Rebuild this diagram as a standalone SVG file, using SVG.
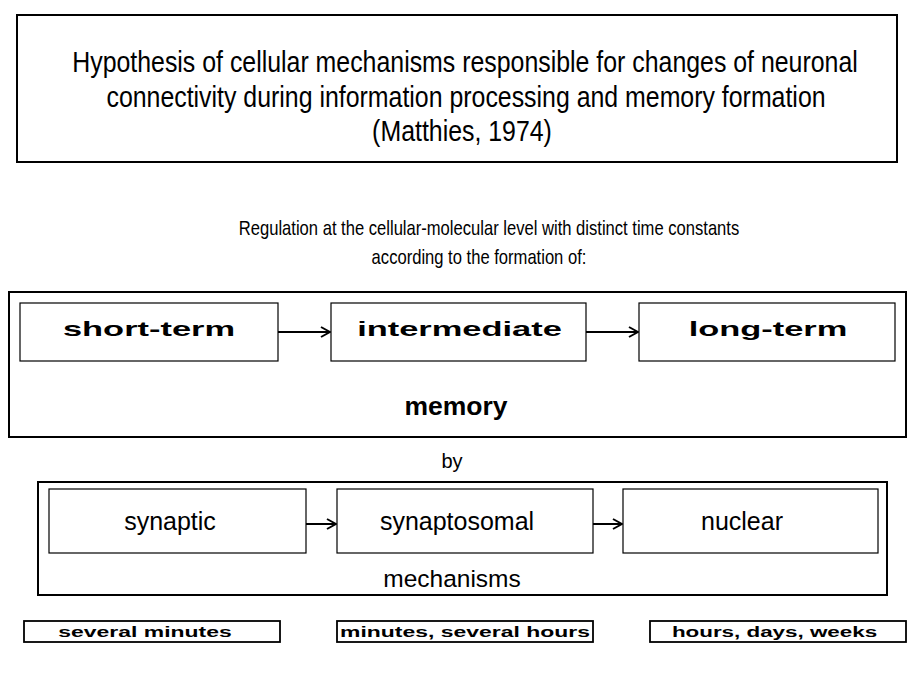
<svg xmlns="http://www.w3.org/2000/svg" width="911" height="684" viewBox="0 0 911 684">
  <style>
    .frame { fill: #fff; stroke: #000; stroke-width: 2; }
    .box { fill: #fff; stroke: #000; stroke-width: 1.2; }
    .tag { fill: #fff; stroke: #000; stroke-width: 1.8; }
    .t { font-family: "Liberation Sans", Arial, sans-serif; fill: #000; text-anchor: middle; }
    .narrow { font-family: "Liberation Sans", Arial, sans-serif; fill: #000; text-anchor: middle; }
    .wide { font-family: "Liberation Sans", Arial, sans-serif; font-weight: bold; fill: #000; text-anchor: middle; }
    .link { stroke: #000; stroke-width: 2; fill: none; }
  </style>
  <defs>
    <marker id="arrow" viewBox="0 0 12 12" refX="11" refY="6" markerWidth="12" markerHeight="12" markerUnits="userSpaceOnUse" orient="auto">
      <path d="M2,1 L11,6 L2,11" fill="none" stroke="#000" stroke-width="2"/>
    </marker>
  </defs>
  <rect width="911" height="684" fill="#fff"/>

  <!-- title (condensed face: horizontal scale 0.83) -->
  <g id="title">
    <rect class="frame" x="17" y="15" width="880" height="147"/>
    <text class="narrow" font-size="30" transform="translate(465 72) scale(0.83 1)">Hypothesis of cellular mechanisms responsible for changes of neuronal</text>
    <text class="narrow" font-size="30" transform="translate(466 107) scale(0.83 1)">connectivity during information processing and memory formation</text>
    <text class="narrow" font-size="30" transform="translate(462 141) scale(0.83 1)">(Matthies, 1974)</text>
  </g>

  <!-- caption -->
  <g id="caption">
    <text class="narrow" font-size="20" transform="translate(489 235) scale(0.83 1)">Regulation at the cellular-molecular level with distinct time constants</text>
    <text class="narrow" font-size="20" transform="translate(479 264) scale(0.83 1)">according to the formation of:</text>
  </g>

  <!-- memory stages (extended face: horizontal scale 1.64) -->
  <g id="memory">
    <rect class="frame" x="9" y="292" width="897" height="145"/>
    <text class="wide" x="456" y="415" font-size="26.5">memory</text>
  </g>
  <g id="short-term">
    <rect class="box" x="20" y="303" width="258" height="58"/>
    <text class="wide" font-size="21" transform="translate(149 336) scale(1.64 1)">short-term</text>
  </g>
  <g id="intermediate">
    <rect class="box" x="331" y="303" width="255" height="58"/>
    <text class="wide" font-size="21" transform="translate(459.5 336) scale(1.64 1)">intermediate</text>
  </g>
  <g id="long-term">
    <rect class="box" x="639" y="303" width="256" height="58"/>
    <text class="wide" font-size="21" transform="translate(768 336) scale(1.64 1)">long-term</text>
  </g>

  <g id="by">
    <text class="t" x="452" y="468" font-size="20">by</text>
  </g>

  <!-- mechanisms -->
  <g id="mechanisms">
    <rect class="frame" x="38" y="482" width="849" height="113"/>
    <text class="t" x="452" y="587" font-size="24.5">mechanisms</text>
  </g>
  <g id="synaptic">
    <rect class="box" x="49" y="489" width="257" height="64"/>
    <text class="t" x="170" y="530" font-size="25">synaptic</text>
  </g>
  <g id="synaptosomal">
    <rect class="box" x="337" y="489" width="256" height="64"/>
    <text class="t" x="457" y="530" font-size="25">synaptosomal</text>
  </g>
  <g id="nuclear">
    <rect class="box" x="623" y="489" width="255" height="64"/>
    <text class="t" x="742" y="530" font-size="25">nuclear</text>
  </g>

  <!-- time scales -->
  <g id="time-short">
    <rect class="tag" x="24" y="621" width="256" height="21"/>
    <text class="wide" font-size="14" transform="translate(145 637) scale(1.64 1)">several minutes</text>
  </g>
  <g id="time-intermediate">
    <rect class="tag" x="337" y="621" width="256" height="21"/>
    <text class="wide" font-size="14" transform="translate(465 637) scale(1.64 1)">minutes, several hours</text>
  </g>
  <g id="time-long">
    <rect class="tag" x="650" y="621" width="256" height="21"/>
    <text class="wide" font-size="14" transform="translate(774.5 637) scale(1.6 1)">hours, days, weeks</text>
  </g>

  <!-- connectors -->
  <g id="connectors">
    <line class="link" x1="278" y1="332" x2="330" y2="332" marker-end="url(#arrow)"/>
    <line class="link" x1="586" y1="332" x2="638" y2="332" marker-end="url(#arrow)"/>
    <line class="link" x1="306" y1="524" x2="336" y2="524" marker-end="url(#arrow)"/>
    <line class="link" x1="593" y1="524" x2="622" y2="524" marker-end="url(#arrow)"/>
  </g>
</svg>
